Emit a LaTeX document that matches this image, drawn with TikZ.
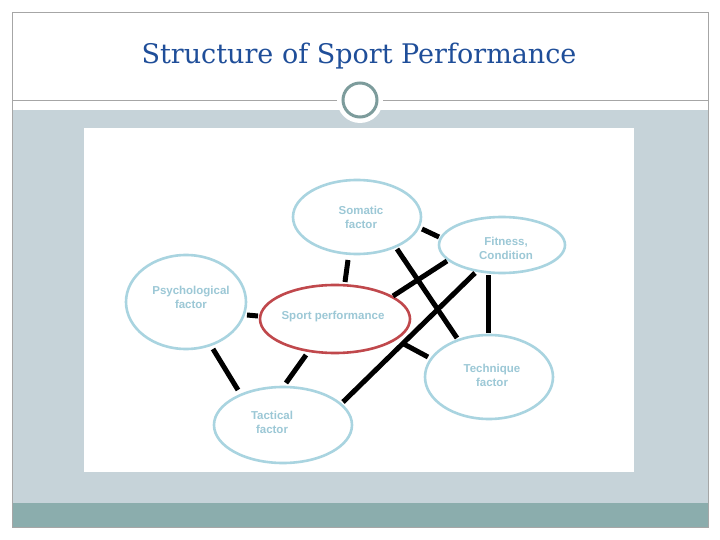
\documentclass[tikz,border=0pt]{standalone}
\usepackage{fontspec}
\setmainfont{DejaVu Serif}
\newfontfamily\arialf{Liberation Sans}
\definecolor{band}{HTML}{C6D3D9}
\definecolor{bar}{HTML}{8BADAD}
\definecolor{ell}{HTML}{A9D4E0}
\definecolor{etxt}{HTML}{9CC8D6}
\definecolor{red1}{HTML}{C0484C}
\definecolor{ttl}{HTML}{1F4E99}
\begin{document}
\begin{tikzpicture}[x=1pt,y=-1pt,
  lab/.style={font=\arialf\bfseries\fontsize{11.5}{14}\selectfont,text=etxt,align=center},
  con/.style={line width=5pt,black}]
\useasboundingbox (0,0) rectangle (720,540);
\fill[white] (0,0) rectangle (720,540);
\fill[band] (12,110) rectangle (708,503);
\fill[bar] (12,503) rectangle (708,527);
\draw[gray!70,line width=0.6pt] (12,12) rectangle (708,527);
\draw[gray!70,line width=0.6pt] (12,100) -- (708,100);
\node[circle,fill=white,minimum size=46pt,inner sep=0] (cw) at (360,100) {};
\node[circle,draw=bar!90!black,line width=3pt,minimum size=34pt,inner sep=0] (c) at (360,100) {};
\node[font=\fontsize{27}{30}\selectfont,text=ttl] (title) at (359,56) {Structure of Sport Performance};
\fill[white] (84,128) rectangle (634,472);
% ellipses
\draw[ell,line width=2.6pt,fill=white] (357,217) ellipse [x radius=64,y radius=37];
\draw[ell,line width=2.6pt,fill=white] (502,245) ellipse [x radius=63,y radius=28];
\draw[ell,line width=2.6pt,fill=white] (186,302) ellipse [x radius=60,y radius=47];
\draw[red1,line width=2.6pt,fill=white] (335,319) ellipse [x radius=75,y radius=34];
\draw[ell,line width=2.6pt,fill=white] (489,377) ellipse [x radius=64,y radius=42];
\draw[ell,line width=2.6pt,fill=white] (283,425) ellipse [x radius=69,y radius=38];
\node[lab] (som) at (361,217) {Somatic\\factor};
\node[lab] (fit) at (506,248) {Fitness,\\Condition};
\node[lab] (psy) at (191,297) {Psychological\\factor};
\node[lab] (spo) at (333,317) {Sport performance};
\node[lab] (tec) at (492,375) {Technique\\factor};
\node[lab] (tac) at (272,422) {Tactical\\factor};
% connector endpoints
\coordinate (a1) at (422,229); \coordinate (b1) at (439,237);
\coordinate (a2) at (348,260); \coordinate (b2) at (345,282);
\coordinate (a3) at (397,249); \coordinate (b3) at (457,338);
\coordinate (a4) at (447,261); \coordinate (b4) at (393,296);
\coordinate (a5) at (475,273); \coordinate (b5) at (343,402);
\coordinate (a6) at (488,275); \coordinate (b6) at (488,333);
\coordinate (a7) at (247,315); \coordinate (b7) at (258,316);
\coordinate (a8) at (213,349); \coordinate (b8) at (238,390);
\coordinate (a9) at (306,355); \coordinate (b9) at (286,383);
\coordinate (a10) at (402,343); \coordinate (b10) at (428,357);
\foreach \i in {1,...,10} {\draw[con] (a\i) -- (b\i);}
\end{tikzpicture}
\end{document}
